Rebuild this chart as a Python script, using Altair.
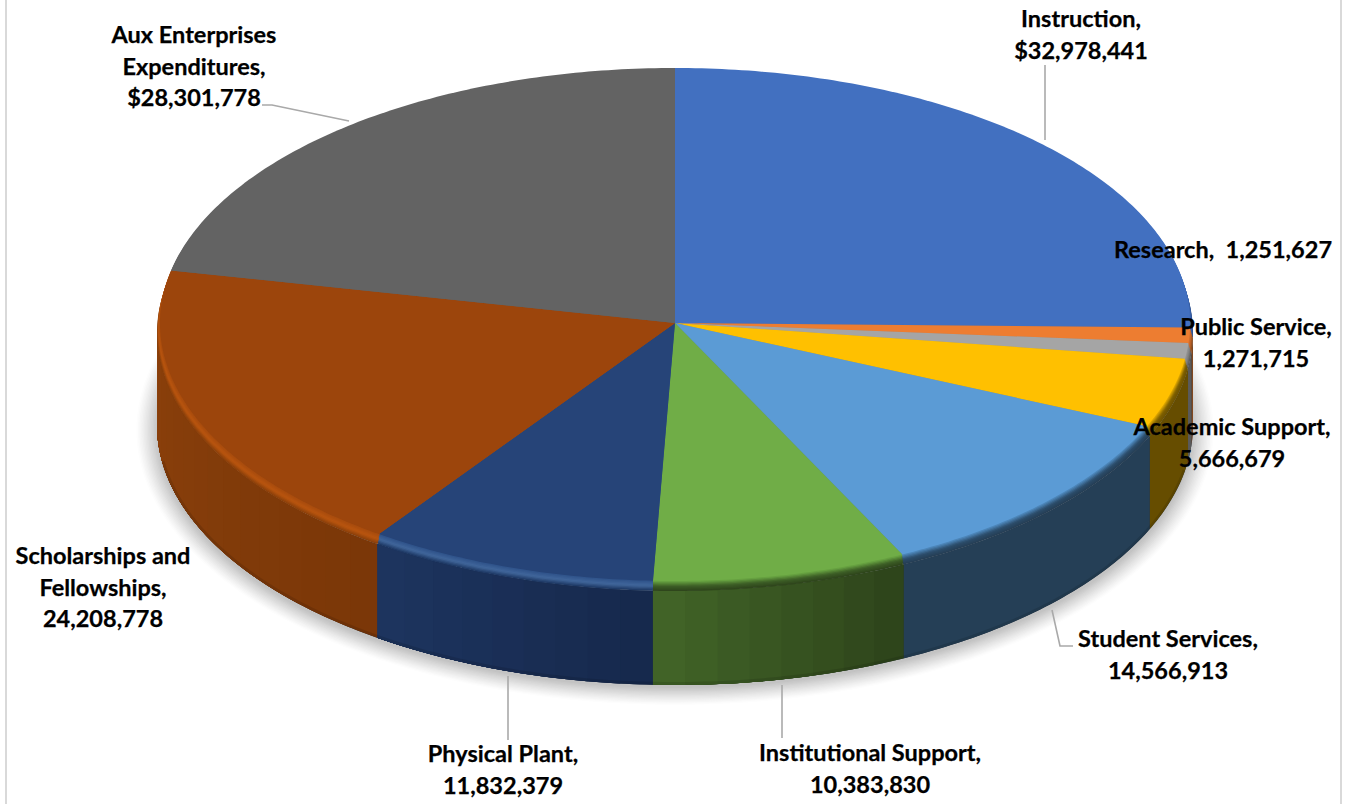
import math
import altair as alt
import pandas as pd

# Expenditure categories and amounts, clockwise from twelve o'clock
categories = ["Instruction", "Research", "Public Service", "Academic Support", "Student Services",
              "Institutional Support", "Physical Plant", "Scholarships and Fellowships",
              "Aux Enterprises Expenditures"]
amounts = [32978441, 1251627, 1271715, 5666679, 14566913, 10383830, 11832379, 24208778, 28301778]
label_heads = [["Instruction,"], ["Research, \u00a0"], ["Public Service,"], ["Academic Support,"],
               ["Student Services,"], ["Institutional Support,"], ["Physical Plant,"],
               ["Scholarships and", "Fellowships,"], ["Aux Enterprises", "Expenditures,"]]
currency_prefix = ["$", "", "", "", "", "", "", "", "$"]

# Slice styling: top colour, wall colour at each end, bevel ramp from outer to inner
top_colors = ["#4270c0", "#ed7d31", "#a5a5a5", "#ffc000", "#5b9bd5", "#70ad47", "#264478", "#9c450c", "#636363"]
wall_right = ["#26416f", "#8a4a1d", "#5a5a5a", "#664d00", "#253f56", "#2d431a", "#16284c", "#7a3708", "#3d3d3d"]
wall_left = ["#26416f", "#8a4a1d", "#5a5a5a", "#664d00", "#253f56", "#426528", "#1d355f", "#8b400b", "#3d3d3d"]
bevel_ramps = [
    ["#2e4f88", "#3860a8", "#3e69b6"],
    ["#8a4a1d", "#b8622a", "#d9722e"],
    ["#5a5a5a", "#7d7d7d", "#959595"],
    ["#6e5300", "#7e6000", "#d9a300"],
    ["#263f56", "#2c4d6b", "#4c85b8"],
    ["#2f461c", "#3d5f26", "#66a040"],
    ["#1f3a66", "#41669b", "#31558c"],
    ["#8b400b", "#b9550f", "#aa4d0e"],
    ["#636363", "#636363", "#636363"],
]

# Label anchors: centre x, first line y
label_anchor = [(1081, 20), (1223, 251), (1256, 328), (1232, 428), (1168, 640),
                (870, 754), (503, 755), (103, 557), (194, 36)]
LINE_STEP = 31.5

# Leader lines as (x, y) runs
leaders = [
    [(1045, 65), (1045, 140)],
    [(1052, 610), (1060, 646), (1073, 646)],
    [(782, 685), (782, 738)],
    [(508, 676), (508, 740)],
    [(262, 105), (272, 105), (349, 121)],
]

W, H = 1355, 804
CX, CY = 675, 323
RX_TOP, RY_BACK, RY_FRONT = 515, 255, 258
BEVEL_DX, BEVEL_DY = 3, 10
RX_WALL, CY_WALL, RY_WALL = 518, CY + BEVEL_DY, 258
CY_BASE, RY_BASE = 425, 260
BEVEL_STEPS = 8

total = sum(amounts)
edges = [0.0]
for a in amounts:
    edges.append(edges[-1] + a / total * 360.0)


def point(t_deg, rx, cy, ry_front, ry_back=None):
    t = math.radians(t_deg)
    c = math.cos(t)
    ry = ry_front if c < 0 else (ry_back if ry_back is not None else ry_front)
    return CX + rx * math.sin(t), cy - ry * c


def sweep(t0, t1):
    n = max(2, int(abs(t1 - t0) / 0.75) + 1)
    return [t0 + (t1 - t0) * i / n for i in range(n + 1)]


def mix(a, b, f):
    pa = [int(a[i:i + 2], 16) for i in (1, 3, 5)]
    pb = [int(b[i:i + 2], 16) for i in (1, 3, 5)]
    return "#" + "".join(f"{round(x + (y - x) * f):02x}" for x, y in zip(pa, pb))


def ramp_color(stops, f):
    pos = f * (len(stops) - 1)
    i = min(int(pos), len(stops) - 2)
    return mix(stops[i], stops[i + 1], pos - i)


class Shapes:
    """Collects closed outlines as rows for a filled line mark."""

    def __init__(self):
        self.rows = []
        self.count = 0

    def add(self, pts, color):
        self.count += 1
        part = f"p{self.count:05d}"
        closed = pts + [pts[0]]
        for i, (x, y) in enumerate(closed):
            self.rows.append({"x": x, "y": y, "part": part, "color": color, "i": i})

    def frame(self):
        return pd.DataFrame(self.rows)


x_scale = alt.Scale(domain=[0, W], range=[0, W], nice=False, zero=False)
y_scale = alt.Scale(domain=[0, H], range=[0, H], nice=False, zero=False)
x_enc = alt.X("x:Q", scale=x_scale, axis=None)
y_enc = alt.Y("y:Q", scale=y_scale, axis=None)


def filled(shapes):
    return alt.Chart(shapes.frame()).mark_line(strokeWidth=0, interpolate="linear").encode(
        x=x_enc, y=y_enc,
        detail="part:N",
        order="i:Q",
        fill=alt.Fill("color:N", scale=None),
        stroke=alt.Stroke("color:N", scale=None),
    )


# Soft ground shadow as concentric ellipses
shadow = Shapes()
LEVELS = 16
for k in range(LEVELS):
    f = k / (LEVELS - 1)
    rx = 540 - 22 * f
    ry = 276 - 18 * f
    grey = round(255 - 60 * f ** 1.2)
    shadow.add([point(t, rx, 430, ry) for t in sweep(0, 360)], f"#{grey:02x}{grey:02x}{grey:02x}")

# Side walls: a dark backing, then bands that run on to the slice's far end
walls = Shapes()
walls.add([point(t, RX_WALL, CY_WALL, RY_WALL) for t in sweep(90, 270)]
          + [point(t, RX_WALL, CY_BASE, RY_BASE) for t in sweep(270, 90)], "#22303f")
for s in range(len(amounts)):
    t0, t1 = max(edges[s], 90.0), min(edges[s + 1], 270.0)
    if t1 <= t0:
        continue
    bands = max(1, int((t1 - t0) / 3.5)) if wall_right[s] != wall_left[s] else 1
    for b in range(bands):
        a0 = t0 + (t1 - t0) * b / bands
        upper = [point(t, RX_WALL, CY_WALL, RY_WALL) for t in sweep(a0, t1)]
        lower = [point(t, RX_WALL, CY_BASE, RY_BASE) for t in sweep(t1, a0)]
        walls.add(upper + lower, mix(wall_right[s], wall_left[s], (b + 0.5) / bands))

# Top face: bevel wedges first, outer to inner, then the flat face over them
tops = Shapes()
for j in range(BEVEL_STEPS):
    u = 1 - j / BEVEL_STEPS
    rx = RX_TOP + BEVEL_DX * u
    cy = CY + BEVEL_DY * u
    for s in range(len(amounts)):
        col = ramp_color(bevel_ramps[s], j / (BEVEL_STEPS - 1))
        arc = [point(t, rx, cy, RY_FRONT, RY_BACK) for t in sweep(edges[s], edges[s + 1])]
        tops.add([(CX, cy)] + arc, col)
for s in range(len(amounts)):
    arc = [point(t, RX_TOP, CY, RY_FRONT, RY_BACK) for t in sweep(edges[s], edges[s + 1])]
    tops.add([(CX, CY)] + arc, top_colors[s])

# Darker lip along the foot of the wall
foot = pd.DataFrame([
    {"x": p[0], "y": p[1], "i": i}
    for i, p in enumerate(point(t, RX_WALL - 1, CY_BASE, RY_BASE - 1.5) for t in sweep(100, 262))
])
foot_line = alt.Chart(foot).mark_line(color="#000000", strokeWidth=3, strokeOpacity=0.11).encode(
    x=x_enc, y=y_enc, order="i:Q")

# Grey frame at both sides of the chart area
frame_df = pd.DataFrame({"x": [6, 1341]})
frame_rules = alt.Chart(frame_df).mark_rule(color="#d9d9d9", strokeWidth=2).encode(
    x=x_enc, y=alt.value(0), y2=alt.value(H))

leader_rows = []
for n, run in enumerate(leaders):
    for i, (x, y) in enumerate(run):
        leader_rows.append({"x": x, "y": y, "leader": n, "i": i})
leader_lines = alt.Chart(pd.DataFrame(leader_rows)).mark_line(color="#a9a9a9", strokeWidth=1.6).encode(
    x=x_enc, y=y_enc, detail="leader:N", order="i:Q")

label_rows = []
for s, heads in enumerate(label_heads):
    value_text = f"{currency_prefix[s]}{amounts[s]:,}"
    lx, ly = label_anchor[s]
    if categories[s] == "Research":
        lines = [heads[0] + value_text]
    else:
        lines = heads + [value_text]
    for i, line in enumerate(lines):
        label_rows.append({"x": lx, "y": ly + i * LINE_STEP, "text": line})
labels = alt.Chart(pd.DataFrame(label_rows)).mark_text(
    font="Lato", fontWeight="bold", fontSize=23.5, color="#000000", align="center", baseline="middle",
    stroke="#000000", strokeWidth=0.25
).encode(x=x_enc, y=y_enc, text="text:N")

chart = alt.layer(
    frame_rules, filled(shadow), filled(walls), foot_line, filled(tops), leader_lines, labels
).properties(
    width=W, height=H, padding=0, background="#ffffff",
    autosize=alt.AutoSizeParams(type="none")
).configure_view(stroke=None)

chart.save("out.html", embed_options={"renderer": "svg", "actions": False})
